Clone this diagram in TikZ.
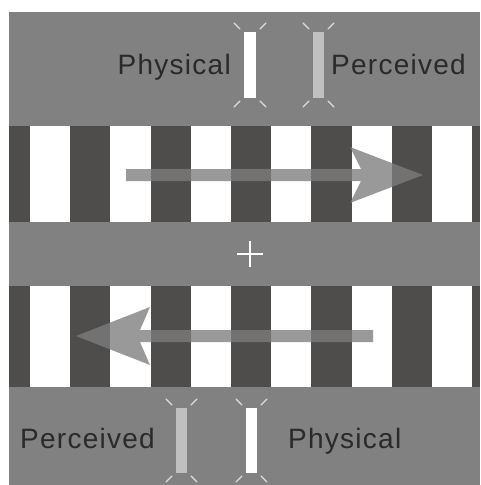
\documentclass[tikz,border=0pt]{standalone}
\usepackage{fontspec}
\setmainfont{Liberation Sans}[LetterSpace=4.5]
\begin{document}
\definecolor{bggray}{RGB}{130,129,129}
\definecolor{stripedark}{RGB}{79,76,76}
\definecolor{labeltext}{RGB}{42,42,42}
\definecolor{percbar}{RGB}{192,192,192}
\definecolor{tickcol}{RGB}{222,222,222}
\definecolor{arrowgray}{RGB}{125,125,125}
\begin{tikzpicture}[x=1pt,y=-1pt,
  label/.style={font=\fontsize{28}{30}\selectfont, text=labeltext, inner sep=0pt},
  motionarrow/.style={fill=arrowgray, fill opacity=0.78, draw=none},
  tick/.style={draw=tickcol, line width=1.2pt, line cap=round}]
  \useasboundingbox (0,0) rectangle (480,485);
  % background field
  \fill[bggray] (9,12) rectangle (480,485);
  % two grating bands
  \foreach \top/\bot in {126/221.5, 286/386.5} {
    \fill[stripedark] (9,\top) rectangle (480,\bot);
    \foreach \k in {0,...,5}
      \fill[white] ({30+80.4*\k},\top) rectangle ({30+80.4*\k+40.2},\bot);
  }
  % fixation cross
  \coordinate (fix) at (250,254);
  \draw[white, line width=2pt] ([xshift=-13pt]fix) -- ([xshift=13pt]fix);
  \draw[white, line width=2pt] ([yshift=13pt]fix) -- ([yshift=-13pt]fix);
  % motion arrows
  \fill[motionarrow] (126,169) -- (361,169) -- (350,147) -- (423,175)
    -- (350,203) -- (361,181) -- (126,181) -- cycle;
  \fill[motionarrow] (373,330) -- (140,330) -- (150,307) -- (76,336)
    -- (150,365) -- (140,342) -- (373,342) -- cycle;
  % luminance bars with glow ticks: left/right/top/bottom/colour
  \foreach \L/\R/\T/\B/\c in {244/256/32/98/white, 313/324/32/98/percbar,
                              176/187/408/473/percbar, 246/257/408/473/white} {
    \fill[\c] (\L,\T) rectangle (\R,\B);
    \draw[tick] ({\L-10},{\T-9}) -- ({\L-4},{\T-3});
    \draw[tick] ({\R+10},{\T-9}) -- ({\R+4},{\T-3});
    \draw[tick] ({\L-10},{\B+9}) -- ({\L-4},{\B+3});
    \draw[tick] ({\R+10},{\B+9}) -- ({\R+4},{\B+3});
  }
  % labels
  \node[label, anchor=base east] (phystop) at (231,74) {Physical};
  \node[label, anchor=base west] (perctop) at (331,74) {Perceived};
  \node[label, anchor=base west] (percbot) at (20,448) {Perceived};
  \node[label, anchor=base west] (physbot) at (288,448) {Physical};
\end{tikzpicture}
\end{document}
